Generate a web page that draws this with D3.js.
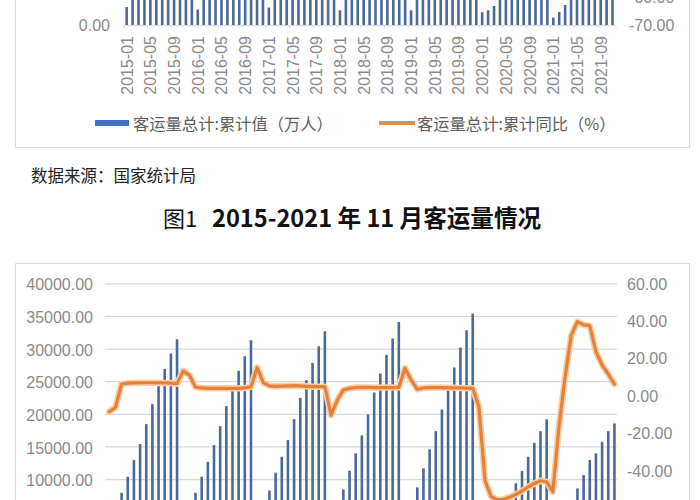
<!DOCTYPE html>
<html><head><meta charset="utf-8">
<script src="https://cdn.jsdelivr.net/npm/d3@7"></script>
<style>html,body{margin:0;padding:0;background:#fff;} svg{display:block;}</style>
</head><body>
<svg id="c" width="700" height="500"></svg>
<script>
// ---------- categories ----------
const years = ["2015","2016","2017","2018","2019","2020","2021"];
const monthNums = ["01","02","03","04","05","06","07","08","09","10","11","12"];
const categories = [];
years.forEach(y => monthNums.forEach(m => { if (!(y === "2021" && m === "12")) categories.push(y + "-" + m); }));
const tickCategories = categories.filter((c, i) => i % 4 === 0);

// ---------- upper (cropped) chart: cumulative passenger volume ----------
const topTotal2015 = [165000,330000,480000,640000,800000,960000,1130000,1300000,1450000,1610000,1770000,1940000];
const topTotal2016 = [141600,310000,460000,610000,770000,920000,1090000,1250000,1400000,1560000,1710000,1900000];
const topTotal2017 = [159600,300000,450000,600000,750000,900000,1060000,1220000,1360000,1510000,1660000,1850000];
const topTotal2018 = [135300,280000,420000,560000,700000,840000,990000,1140000,1280000,1420000,1560000,1790000];
const topTotal2019 = [135300,270000,410000,550000,690000,830000,970000,1120000,1260000,1400000,1540000,1760000];
const topTotal2020 = [117200,135300,174000,240000,310000,380000,460000,540000,620000,710000,800000,970000];
const topTotal2021 = [69400,120000,183000,250000,330000,410000,490000,560000,630000,700000,760000];
const topLeftTicks = [0];
const topRightTicks = [-70,-60];

// ---------- 图1 chart ----------
const total2015 = [2650,5300,7900,10350,12906,15355,18417,21479,24235,26883,29240,31430];
const total2016 = [2990,5860,7900,10350,12645,15202,18111,21173,23515,26577,28827,31276];
const total2017 = [3420,6230,8250,10961,13411,15967,19182,22444,25153,27802,30358,32654];
const total2018 = [3050,6030,8420,11268,13931,16687,19902,23270,26179,29027,31537,34078];
const total2019 = [3480,6500,8726,11635,14544,17345,20667,23729,27097,30159,32807,35364];
const total2020 = [3250,3500,3970,5100,6400,7547,9339,11222,13411,15555,17345,19137];
const total2021 = [1570,2900,4350,6700,8573,10609,12906,13931,15708,17345,18524];

const yoy2015 = [-9.1,-6.8,5.7,6.2,6.3,6.4,6.4,6.4,6.4,6.3,6.2,5.9];
const yoy2016 = [12.7,10.5,4.0,3.6,3.4,3.4,3.4,3.4,3.4,3.4,3.6,4.2];
const yoy2017 = [14.5,6.5,4.7,4.5,4.6,4.7,4.8,4.7,4.5,4.3,4.3,4.3];
const yoy2018 = [-10.9,-3.0,2.5,3.4,3.8,3.9,3.9,3.8,3.8,3.8,3.8,3.9];
const yoy2019 = [14.1,7.9,2.9,3.6,3.8,3.8,3.8,3.7,3.7,3.6,3.5,3.4];
const yoy2020 = [-6.5,-46.0,-54.5,-56.2,-56.0,-54.8,-53.4,-51.5,-49.3,-47.5,-46.0,-46.6];
const yoy2021 = [-51.9,-17.1,9.6,31.9,39.1,37.3,36.9,23.0,15.9,11.0,5.7];

const leftTicks = [0,5000,10000,15000,20000,25000,30000,35000,40000];
const rightTicks = [-80,-60,-40,-20,0,20,40,60];

const seriesBarName = "客运量总计:累计值（万人）";
const seriesLineName = "客运量总计:累计同比（%）";
const sourceText = "数据来源：国家统计局";
const titlePrefix = "图1";
const titleMain = "2015-2021 年 11 月客运量情况";

const topTotal = [].concat(topTotal2015, topTotal2016, topTotal2017, topTotal2018, topTotal2019, topTotal2020, topTotal2021);
const total = [].concat(total2015, total2016, total2017, total2018, total2019, total2020, total2021);
const yoy = [].concat(yoy2015, yoy2016, yoy2017, yoy2018, yoy2019, yoy2020, yoy2021);

const BAR = "#4a6a9b", LINE = "#e8803a", GRID = "#d9d9d9", AXT = "#8a8a8a";
const NUMFONT = "'Liberation Sans', Arial, sans-serif";
const CJK = "'Noto Sans CJK SC', 'Noto Sans', sans-serif";
const fmt = v => v.toFixed(2);

const svg = d3.select("#c");
svg.append("rect").attr("width",700).attr("height",500).attr("fill","#fff");

// ================= upper chart =================
const gT = svg.append("g");
gT.append("path").attr("d","M15.5,-10 V147.5 H689.5 V-10").attr("fill","none").attr("stroke",GRID).attr("stroke-width",1);

const xT = d3.scaleBand().domain(categories).range([123.7, 615.5]).padding(0);
const yTL = d3.scaleLinear().domain([0, 2000000]).range([25.3, 25.3 - 222]);
const yTR = d3.scaleLinear().domain([-70, -60]).range([25.5, -2.5]);

gT.append("g").selectAll("rect").data(categories).join("rect")
  .attr("x", c => xT(c) + xT.bandwidth()/2 - 1.3)
  .attr("width", 2.6)
  .attr("y", (c,i) => yTL(topTotal[i]))
  .attr("height", (c,i) => yTL(0) - yTL(topTotal[i]))
  .attr("fill", BAR);

const axT = d3.axisBottom(xT).tickValues(tickCategories).tickSize(3).tickFormat("");
const gAxT = gT.append("g").attr("transform","translate(0,25.3)").call(axT);
gAxT.select(".domain").attr("stroke",GRID);
gAxT.selectAll(".tick line").attr("stroke",GRID).attr("transform",`translate(${-xT.bandwidth()/2},0)`);

gT.append("g").selectAll("text").data(tickCategories).join("text")
  .attr("transform", c => `translate(${xT(c) + xT.bandwidth()/2 + 0.5},36) rotate(-90)`)
  .attr("text-anchor","end").attr("dominant-baseline","central")
  .attr("font-family",NUMFONT).attr("font-size",16).attr("fill",AXT)
  .text(c => c);

const lT = d3.axisLeft(yTL).tickValues(topLeftTicks).tickFormat(fmt).tickSize(0).tickPadding(0);
const gLT = gT.append("g").attr("transform","translate(110,0)").call(lT);
gLT.select(".domain").remove();
gLT.selectAll("text").attr("font-family",NUMFONT).attr("font-size",16).attr("fill",AXT);

const rT = d3.axisRight(yTR).tickValues(topRightTicks).tickFormat(fmt).tickSize(0).tickPadding(0);
const gRT = gT.append("g").attr("transform","translate(629,0)").call(rT);
gRT.select(".domain").remove();
gRT.selectAll("text").attr("font-family",NUMFONT).attr("font-size",16).attr("fill",AXT);

const lg = gT.append("g").attr("transform","translate(0,123)");
lg.append("rect").attr("x",95).attr("y",-3).attr("width",34).attr("height",6).attr("fill","#4472c4");
lg.append("text").attr("x",133).attr("y",0).attr("dominant-baseline","central")
  .attr("font-family",CJK).attr("font-size",16.3).attr("fill","#606060").text(seriesBarName);
lg.append("line").attr("x1",379).attr("x2",415).attr("y1",0).attr("y2",0)
  .attr("stroke","#d8914e").attr("stroke-width",4);
lg.append("text").attr("x",417).attr("y",0).attr("dominant-baseline","central")
  .attr("font-family",CJK).attr("font-size",16.3).attr("fill","#606060").text(seriesLineName);

svg.append("text").attr("x",31).attr("y",175).attr("dominant-baseline","central")
  .attr("font-family",CJK).attr("font-size",16.5).attr("fill","#222").text(sourceText);
const tt = svg.append("text").attr("y",227).attr("font-family",CJK).attr("fill","#111");
tt.append("tspan").attr("x",163).attr("font-size",22).attr("font-weight",400).text(titlePrefix);
tt.append("tspan").attr("x",212).attr("font-size",23.6).attr("font-weight",700).text(titleMain);

// ================= 图1 chart =================
const gB = svg.append("g");
gB.append("path").attr("d","M15.5,510 V263.5 H689.5 V510").attr("fill","none").attr("stroke",GRID).attr("stroke-width",1);

const xB = d3.scaleBand().domain(categories).range([106.2, 617.5]).padding(0);
const yL = d3.scaleLinear().domain([0, 40000]).range([544.3, 283.3]);
const yR = d3.scaleLinear().domain([-80, 60]).range([544.3, 282.5]);

const grid = d3.axisLeft(yL).tickValues(leftTicks).tickSize(-(617 - 105)).tickFormat("");
const gG = gB.append("g").attr("transform","translate(105,0)").call(grid);
gG.select(".domain").remove();
gG.selectAll(".tick line").attr("stroke",GRID).attr("stroke-width",1.2);

const aL = d3.axisLeft(yL).tickValues(leftTicks).tickFormat(fmt).tickSize(0).tickPadding(0);
const gL = gB.append("g").attr("transform","translate(93,1.5)").call(aL);
gL.select(".domain").remove();
gL.selectAll("text").attr("font-family",NUMFONT).attr("font-size",16).attr("fill",AXT);

const aR = d3.axisRight(yR).tickValues(rightTicks).tickFormat(fmt).tickSize(0).tickPadding(0);
const gR = gB.append("g").attr("transform","translate(627,1.5)").call(aR);
gR.select(".domain").remove();
gR.selectAll("text").attr("font-family",NUMFONT).attr("font-size",16).attr("fill",AXT);

gB.append("g").selectAll("rect").data(categories).join("rect")
  .attr("x", c => xB(c) + xB.bandwidth()/2 - 1.3)
  .attr("width", 2.6)
  .attr("y", (c,i) => yL(total[i]))
  .attr("height", (c,i) => yL(0) - yL(total[i]))
  .attr("fill", BAR);

const line = d3.line().x((d,i) => xB(categories[i]) + xB.bandwidth()/2).y(d => yR(d));
gB.append("path").datum(yoy).attr("d", line).attr("fill","none")
  .attr("stroke","#f6cfa8").attr("stroke-width",6.5).attr("stroke-linejoin","round").attr("stroke-linecap","round");
gB.append("path").datum(yoy).attr("d", line).attr("fill","none")
  .attr("stroke",LINE).attr("stroke-width",3.2).attr("stroke-linejoin","round").attr("stroke-linecap","round");
</script>
</body></html>
